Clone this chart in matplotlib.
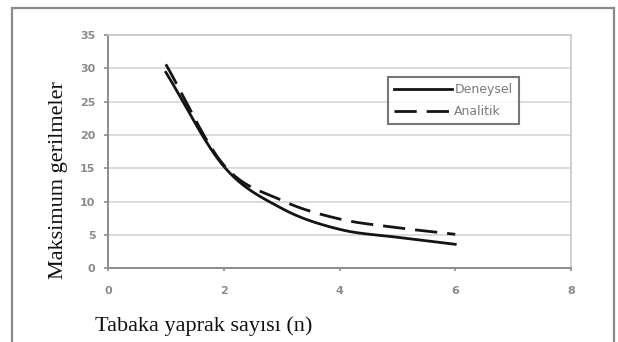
import numpy as np
import matplotlib
matplotlib.use("Agg")
import matplotlib.pyplot as plt
from matplotlib.patches import Rectangle

# Number of sheets and maximum stresses
n_sheets = [1, 2, 3, 4, 5, 6]
deneysel = [29.4, 15.3, 9.0, 5.85, 4.65, 3.6]
analitik = [30.6, 15.5, 10.2, 7.4, 6.1, 5.1]

x_ticks = [0, 2, 4, 6, 8]
y_ticks = [0, 5, 10, 15, 20, 25, 30, 35]


def smooth_curve(x, y, steps=30):
    """Catmull-Rom spline through the given points (smoothed line style)."""
    x = np.asarray(x, float)
    y = np.asarray(y, float)
    px = np.concatenate([[2 * x[0] - x[1]], x, [2 * x[-1] - x[-2]]])
    py = np.concatenate([[2 * y[0] - y[1]], y, [2 * y[-1] - y[-2]]])
    xs, ys = [], []
    t = np.linspace(0, 1, steps, endpoint=False)
    for i in range(1, len(px) - 2):
        for arr, out in ((px, xs), (py, ys)):
            p0, p1, p2, p3 = arr[i - 1], arr[i], arr[i + 1], arr[i + 2]
            out.extend(0.5 * ((2 * p1) + (-p0 + p2) * t
                              + (2 * p0 - 5 * p1 + 4 * p2 - p3) * t ** 2
                              + (-p0 + 3 * p1 - 3 * p2 + p3) * t ** 3))
    xs.append(x[-1])
    ys.append(y[-1])
    return np.array(xs), np.array(ys)


W, H = 618, 342
fig = plt.figure(figsize=(W / 100, H / 100), dpi=100)
fig.patch.set_facecolor("white")

# Outer chart border
fig.patches.append(Rectangle((12 / W, -0.05), 602 / W, 1 - 8 / H + 0.05,
                             transform=fig.transFigure, fill=False,
                             edgecolor="#8a8a8a", linewidth=1.6))

ax = fig.add_axes([108 / W, 1 - 268.3 / H, (571 - 108) / W, (268.3 - 35) / H])
ax.set_xlim(0, 8)
ax.set_ylim(0, 35)
ax.set_xticks(x_ticks)
ax.set_yticks(y_ticks)

ax.yaxis.grid(True, color="#d4d4d4", linewidth=1.2)
ax.set_axisbelow(True)

for side in ("left", "bottom"):
    ax.spines[side].set_color("#8c8c8c")
    ax.spines[side].set_linewidth(1.4)
for side in ("top", "right"):
    ax.spines[side].set_color("#c8c8c8")
    ax.spines[side].set_linewidth(1.2)

ax.tick_params(axis="both", direction="out", width=1.2, color="#8c8c8c",
               labelcolor="#8a8a8a", labelsize=8)
ax.tick_params(axis="x", length=2, pad=11)
ax.tick_params(axis="y", length=3, pad=6)
for lab in ax.get_xticklabels() + ax.get_yticklabels():
    lab.set_fontfamily("DejaVu Sans")
    lab.set_fontweight("bold")

sx, sy = smooth_curve(n_sheets, deneysel)
ax.plot(sx, sy, color="#141414", linewidth=2.0, label="Deneysel")
ax_, ay_ = smooth_curve(n_sheets, analitik)
ax.plot(ax_, ay_, color="#141414", linewidth=2.0, linestyle=(0, (8, 3.6)), label="Analitik")

leg = ax.legend(loc="upper left",
                bbox_to_anchor=((388 - 108) / 463, (268.3 - 77) / 233.3),
                frameon=True, fancybox=False, handlelength=4.65,
                borderpad=0.5, labelspacing=0.7, handletextpad=0.15,
                borderaxespad=0.0,
                prop={"family": "DejaVu Sans", "size": 9})
leg.get_frame().set_edgecolor("#555555")
leg.get_frame().set_linewidth(1.5)
for t in leg.get_texts():
    t.set_color("#7a7a7a")

fig.text(59 / W, 1 - 180 / H, "Maksimum gerilmeler", rotation=90,
         ha="center", va="center", family="Liberation Serif", fontsize=16,
         color="#111111")
fig.text(95 / W, 1 - 326 / H, "Tabaka yaprak sayısı (n)",
         ha="left", va="center", family="Liberation Serif", fontsize=16,
         color="#111111")

fig.savefig("out.png", dpi=100)
